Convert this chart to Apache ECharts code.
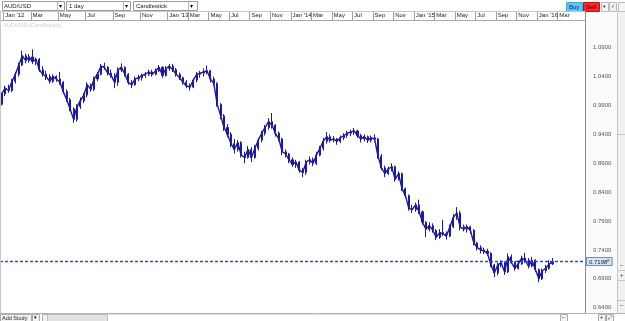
<!DOCTYPE html>
<html><head><meta charset="utf-8">
<script src="https://cdn.jsdelivr.net/npm/echarts@6/dist/echarts.min.js"></script>
<style>html,body{margin:0;padding:0;background:#fff;overflow:hidden}#c{width:625px;height:321px}</style>
</head><body><div id="c"></div>
<script>
// ---- data ----
const symbol = 'AUD/USD';
const currentPrice = 0.7198;
const yTickValues = [0.64, 0.69, 0.74, 0.79, 0.84, 0.89, 0.94, 0.99, 1.04, 1.09];
const xTickMonthNames = { '01': 'Jan', '03': 'Mar', '05': 'May', '07': 'Jul', '09': 'Sep', '11': 'Nov' };
// candles: [open, close, low, high]
const ohlc2011 = [[0.992,1.010,0.990,1.012]];
const ohlc2012 = [
[1.010,1.020,1.006,1.024],[1.020,1.016,1.012,1.026],[1.016,1.032,1.013,1.036],[1.032,1.044,1.028,1.048],
[1.044,1.060,1.040,1.064],[1.060,1.076,1.058,1.085],[1.076,1.068,1.063,1.080],[1.068,1.074,1.064,1.079],
[1.074,1.066,1.062,1.087],[1.066,1.070,1.060,1.073],[1.070,1.052,1.048,1.072],[1.052,1.044,1.040,1.058],
[1.044,1.040,1.034,1.050],[1.040,1.032,1.028,1.044],[1.032,1.040,1.029,1.044],[1.040,1.036,1.031,1.042],
[1.036,1.030,1.026,1.048],[1.030,1.014,1.010,1.032],[1.014,1.000,0.996,1.018],[1.000,0.984,0.980,1.003],
[0.984,0.966,0.960,0.987],[0.966,0.988,0.962,0.992],[0.988,0.998,0.984,1.004],[0.998,1.008,0.994,1.012],
[1.008,1.026,1.004,1.030],[1.026,1.018,1.014,1.028],[1.018,1.036,1.015,1.040],[1.036,1.044,1.032,1.048],
[1.044,1.058,1.042,1.062],[1.058,1.056,1.052,1.064],[1.056,1.046,1.042,1.058],[1.046,1.042,1.038,1.052],
[1.042,1.030,1.020,1.046],[1.030,1.052,1.024,1.056],[1.052,1.056,1.048,1.063],[1.056,1.044,1.040,1.058],
[1.044,1.030,1.026,1.046],[1.030,1.026,1.020,1.034],[1.026,1.036,1.024,1.040],[1.036,1.038,1.032,1.043],
[1.038,1.042,1.033,1.045],[1.042,1.044,1.038,1.048],[1.044,1.048,1.041,1.052],[1.048,1.044,1.040,1.052],
[1.044,1.050,1.042,1.054],[1.050,1.056,1.048,1.060],[1.056,1.042,1.038,1.058],[1.042,1.054,1.040,1.058]
];
const ohlc2013 = [
[1.054,1.058,1.050,1.062],[1.058,1.052,1.048,1.062],[1.052,1.044,1.040,1.055],[1.044,1.038,1.034,1.047],
[1.038,1.030,1.026,1.040],[1.030,1.024,1.020,1.034],[1.024,1.022,1.016,1.028],[1.022,1.034,1.020,1.037],
[1.034,1.044,1.030,1.048],[1.044,1.046,1.038,1.050],[1.046,1.048,1.040,1.054],[1.048,1.050,1.044,1.059],
[1.050,1.036,1.030,1.052],[1.036,1.028,1.024,1.040],[1.028,0.992,0.988,1.030],[0.992,0.972,0.966,0.994],
[0.972,0.952,0.946,0.975],[0.952,0.940,0.935,0.958],[0.940,0.924,0.918,0.944],[0.924,0.914,0.907,0.932],
[0.914,0.926,0.910,0.930],[0.926,0.904,0.900,0.928],[0.904,0.900,0.890,0.910],[0.900,0.914,0.898,0.920],
[0.914,0.900,0.892,0.918],[0.900,0.916,0.898,0.922],[0.916,0.930,0.912,0.934],[0.930,0.942,0.926,0.946],
[0.942,0.952,0.938,0.956],[0.952,0.962,0.948,0.968],[0.962,0.956,0.950,0.977],[0.956,0.942,0.936,0.958],
[0.942,0.932,0.928,0.945],[0.932,0.910,0.904,0.934],[0.910,0.906,0.900,0.914],[0.906,0.896,0.890,0.908]
];
const ohlc2014 = [
[0.896,0.888,0.884,0.900],[0.888,0.892,0.882,0.896],[0.892,0.878,0.874,0.894],[0.878,0.874,0.866,0.882],
[0.874,0.892,0.870,0.896],[0.892,0.896,0.888,0.902],[0.896,0.890,0.885,0.900],[0.890,0.904,0.887,0.910],
[0.904,0.916,0.902,0.920],[0.916,0.928,0.912,0.934],[0.928,0.936,0.924,0.944],[0.936,0.930,0.926,0.940],
[0.930,0.932,0.926,0.937],[0.932,0.928,0.922,0.934],[0.928,0.934,0.925,0.938],[0.934,0.938,0.930,0.942],
[0.938,0.942,0.934,0.946],[0.942,0.944,0.937,0.948],[0.944,0.946,0.939,0.951],[0.946,0.938,0.934,0.948],
[0.938,0.932,0.926,0.941],[0.932,0.936,0.928,0.940],[0.936,0.930,0.925,0.938],[0.930,0.934,0.926,0.938],
[0.934,0.932,0.928,0.940],[0.932,0.902,0.898,0.934],[0.902,0.882,0.878,0.906],[0.882,0.872,0.866,0.886],
[0.872,0.880,0.870,0.884],[0.880,0.884,0.876,0.890],[0.884,0.862,0.858,0.886],[0.862,0.872,0.860,0.876],
[0.872,0.846,0.842,0.874],[0.846,0.834,0.830,0.848],[0.834,0.812,0.808,0.836],[0.812,0.810,0.804,0.818]
];
const ohlc2015 = [
[0.810,0.818,0.806,0.822],[0.818,0.806,0.802,0.827],[0.806,0.788,0.784,0.808],[0.788,0.776,0.762,0.790],
[0.776,0.782,0.772,0.788],[0.782,0.774,0.770,0.786],[0.774,0.762,0.757,0.776],[0.762,0.770,0.759,0.776],
[0.770,0.768,0.764,0.792],[0.768,0.764,0.758,0.772],[0.764,0.780,0.762,0.784],[0.780,0.796,0.778,0.802],
[0.796,0.804,0.792,0.814],[0.804,0.780,0.774,0.808],[0.780,0.776,0.772,0.784],[0.776,0.780,0.770,0.784],
[0.780,0.774,0.768,0.782],[0.774,0.752,0.748,0.776],[0.752,0.744,0.739,0.754],[0.744,0.740,0.734,0.748],
[0.740,0.738,0.733,0.744],[0.738,0.734,0.730,0.742],[0.734,0.714,0.710,0.736],[0.714,0.700,0.693,0.716],
[0.700,0.714,0.696,0.718],[0.714,0.718,0.710,0.722],[0.718,0.702,0.697,0.720],[0.702,0.728,0.700,0.734],
[0.728,0.718,0.716,0.732],[0.718,0.708,0.704,0.720],[0.708,0.716,0.706,0.722],[0.716,0.726,0.714,0.730],
[0.726,0.722,0.718,0.735],[0.722,0.712,0.708,0.726],[0.712,0.722,0.710,0.728],[0.722,0.706,0.702,0.724]
];
const ohlc2016 = [
[0.706,0.690,0.684,0.708],[0.690,0.704,0.688,0.708],[0.704,0.708,0.700,0.714],[0.708,0.716,0.706,0.722],
[0.716,0.7198,0.714,0.726]
];

// ---- categories: one bucket per candle (2012: 4 per month, later: 3 per month) ----
const categories = ['2011-12-4'];
function addMonths(y, m, yEnd, mEnd, n) {
  while (y < yEnd || (y === yEnd && m <= mEnd)) {
    for (let k = 1; k <= n; k++) categories.push(y + '-' + String(m).padStart(2, '0') + '-' + k);
    m++; if (m > 12) { m = 1; y++; }
  }
}
addMonths(2012, 1, 2012, 12, 4);
addMonths(2013, 1, 2016, 5, 3);
categories.length = 171;

const candles = [].concat(ohlc2011, ohlc2012, ohlc2013, ohlc2014, ohlc2015, ohlc2016);
const closes = candles.map(c => c[1]);
while (candles.length < categories.length) { candles.push('-'); closes.push('-'); }
const emptySeries = categories.map(() => '-');

const navy = '#1a1aa6';
const priceLineBlue = '#1e46ff';
const chart = echarts.init(document.getElementById('c'), null, { renderer: 'canvas' });
const F = 'Liberation Sans, Arial, sans-serif';

function txt(x, y, t, size, color, extra) {
  return Object.assign({ type: 'text', x: x, y: y, z: 20, style: { text: t, fontSize: size, fontFamily: F, fill: color || '#222' } }, extra || {});
}
function rect(x, y, w, h, fill, stroke, z) {
  return { type: 'rect', z: z == null ? 15 : z, shape: { x: x, y: y, width: w, height: h }, style: { fill: fill, stroke: stroke || null, lineWidth: 1 } };
}
function line(x1, y1, x2, y2, color, z) {
  return { type: 'line', z: z == null ? 16 : z, shape: { x1: x1, y1: y1, x2: x2, y2: y2 }, style: { stroke: color, lineWidth: 1 } };
}

const graphics = [
  // toolbar
  rect(2.5, 1.5, 62, 9, '#fff', '#9a9a9a'), line(57.5, 2, 57.5, 10, '#bbb'), txt(59, 3, '▾', 6, '#000'),
  txt(4, 3.5, symbol, 6, '#222'),
  rect(66.5, 1.5, 64, 9, '#fff', '#9a9a9a'), line(123.5, 2, 123.5, 10, '#bbb'), txt(125, 3, '▾', 6, '#000'),
  txt(69, 3.5, '1 day', 6, '#222'),
  rect(133.5, 1.5, 64, 9, '#fff', '#9a9a9a'), line(188.5, 2, 188.5, 10, '#bbb'), txt(190, 3, '▾', 6, '#000'),
  txt(136, 3.5, 'Candlestick', 6, '#222'),
  rect(566.5, 2.5, 16, 9, '#5cc4f2', '#46a8d8'), txt(569, 4.5, 'Buy', 6, '#0a2a7a'),
  rect(583.5, 2.5, 16, 9, '#ff2424', '#d01010'), txt(586, 4.5, 'Sell', 6, '#400'),
  rect(601.5, 2.5, 7, 9, '#f4f4f4', '#bbb'), txt(603, 4, '▾', 5, '#333'),
  rect(609.5, 2.5, 7, 9, '#f4f4f4', '#bbb'), txt(611, 4, '✓', 5, '#333'),
  rect(618.5, 2.5, 7, 9, '#f4f4f4', '#bbb'),
  // date row frame
  line(0, 11.5, 585, 11.5, '#c8c8c8'),
  // watermark
  txt(3, 22, symbol + ' (Candlestick)', 5.5, '#cfcfcf', { z: 1 }),
  // right axis panel
  rect(585.5, 11.5, 32, 301, '#fbfbfb', null, -5),
  line(585.5, 11, 585.5, 313, '#8c8c8c'),
  line(617.5, 11, 617.5, 313, '#c8c8c8'),
  rect(618, 11, 7, 302, '#f1f1f1', null, -5),
  line(618, 134.5, 625, 134.5, '#c8c8c8'),
  txt(620, 262, '−', 6, '#333'), txt(620, 272, '+', 6, '#333'), txt(620, 302, '−', 6, '#333'),
  line(618, 270.5, 625, 270.5, '#c8c8c8'), line(618, 280.5, 625, 280.5, '#c8c8c8'), line(618, 300.5, 625, 300.5, '#c8c8c8'),
  // bottom bar
  line(0, 313.5, 625, 313.5, '#b4b4b4'),
  rect(0.5, 314.5, 31, 7, '#f2f2f2', '#aaa'), txt(2, 315.5, 'Add Study', 5.5, '#222'),
  rect(32.5, 314.5, 7, 7, '#f2f2f2', '#aaa'), txt(34, 315, '▾', 5, '#000'),
  rect(42.5, 314.5, 5, 7, '#f2f2f2', '#aaa'),
  rect(47.5, 314.5, 60, 7, '#e2e2e2', '#bbb'),
  line(107.5, 314.5, 560, 314.5, '#ddd'),
  rect(560.5, 314.5, 7, 7, '#f2f2f2', '#aaa'), txt(562, 315, '−', 5, '#000'),
  rect(598.5, 314.5, 7, 7, '#f2f2f2', '#aaa'), txt(600, 315, '+', 5, '#000'),
  rect(606.5, 314.5, 7, 7, '#f2f2f2', '#aaa'), txt(608, 315, '⤢', 5, '#000'),
  line(0.5, 11, 0.5, 313, '#c8c8c8')
];

const tickShown = (i, v) => v.endsWith('-1') && !!xTickMonthNames[v.split('-')[1]] && i < 166;

chart.setOption({
  animation: false,
  backgroundColor: '#ffffff',
  color: [navy, navy, priceLineBlue],
  grid: { left: 0, right: 40, top: 20, bottom: 8, containLabel: false },
  xAxis: {
    type: 'category',
    position: 'top',
    data: categories,
    boundaryGap: true,
    axisLine: { show: true, lineStyle: { color: '#a8a8a8', width: 1 } },
    axisTick: { show: true, inside: false, length: 9, interval: tickShown, lineStyle: { color: '#a0a0a0', width: 1 } },
    axisLabel: {
      show: true, margin: 2, align: 'left', fontSize: 6, fontFamily: F, color: '#222',
      interval: tickShown,
      formatter: v => {
        const p = v.split('-');
        return p[1] === '01' ? "Jan '" + p[0].slice(2) : xTickMonthNames[p[1]];
      }
    },
    splitLine: { show: false }
  },
  yAxis: {
    type: 'value',
    position: 'right',
    min: 0.630845,
    max: 1.13794,
    scale: true,
    z: 5,
    axisLine: { show: false },
    axisTick: { show: false },
    splitLine: { show: false },
    axisLabel: {
      customValues: yTickValues,
      margin: 8, fontSize: 6, fontFamily: F, color: '#555',
      formatter: v => v.toFixed(4)
    }
  },
  graphic: graphics,
  series: [{
    type: 'line',
    name: symbol + ' close',
    data: closes,
    symbol: 'none',
    silent: true,
    z: 3,
    itemStyle: { color: navy },
    lineStyle: { color: navy, width: 1.4 }
  }, {
    type: 'candlestick',
    name: symbol,
    data: candles,
    barWidth: 1.6,
    z: 4,
    itemStyle: { color: navy, color0: navy, borderColor: navy, borderColor0: navy, borderWidth: 1 }
  }, {
    type: 'line',
    name: 'current price',
    data: emptySeries,
    symbol: 'none',
    silent: true,
    z: 5,
    itemStyle: { color: priceLineBlue },
    lineStyle: { color: priceLineBlue },
    markLine: {
      symbol: 'none', silent: true, animation: false,
      data: [{ yAxis: currentPrice }],
      itemStyle: { color: priceLineBlue },
      lineStyle: { color: priceLineBlue, type: [3, 2], width: 1.3, opacity: 1 },
      label: {
        position: 'end', distance: 2,
        formatter: () => '{a|' + currentPrice.toFixed(4) + '}{b|8}',
        backgroundColor: '#d4e4fb', borderColor: '#5b8fe0', borderWidth: 1,
        padding: [1, 2, 0, 2],
        rich: { a: { fontSize: 6, fontFamily: F, color: '#222' }, b: { fontSize: 4, fontFamily: F, color: '#222', verticalAlign: 'top' } }
      }
    }
  }]
});
</script>
</body></html>
